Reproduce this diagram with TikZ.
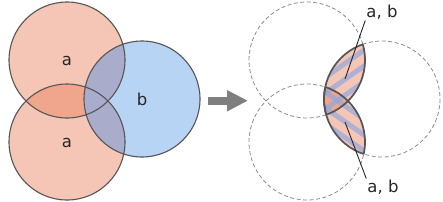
\documentclass[tikz,border=0pt]{standalone}
\usepackage{fontspec}
\setmainfont{DejaVu Sans}
\definecolor{salm}{HTML}{F5C6B6}
\definecolor{salmdark}{HTML}{F0A68C}
\definecolor{blu}{HTML}{B8D4F5}
\definecolor{purp}{HTML}{AAACCC}
\definecolor{outc}{HTML}{555555}
\definecolor{stripec}{HTML}{8FA6E0}
\definecolor{arrowc}{HTML}{7F7F7F}
\definecolor{dashcol}{HTML}{8C8C8C}
\begin{document}
\begin{tikzpicture}[x=1pt,y=-1pt,
  outl/.style={draw=outc,line width=1.1pt},
  dashc/.style={draw=dashcol,line width=0.8pt,dash pattern=on 4pt off 2.5pt},
  lensline/.style={draw=outc,line width=1.7pt},
  stripe/.style={draw=stripec,line width=5pt,opacity=0.68},
  lbl/.style={inner sep=1pt,text=black!85,font=\fontsize{16.5}{19}\selectfont},
  leader/.style={draw=black!85,line width=0.9pt}]
\useasboundingbox (0,0) rectangle (443,201);
\def\r{58}
% ---- left ----
\coordinate (TA) at (67,60);
\coordinate (BA) at (67,142);
\coordinate (CB) at (142,99);
\fill[salm] (TA) circle (\r);
\fill[salm] (BA) circle (\r);
\fill[blu] (CB) circle (\r);
\begin{scope}
  \clip (TA) circle (\r);
  \fill[salmdark] (BA) circle (\r);
\end{scope}
\begin{scope}
  \clip (CB) circle (\r);
  \fill[purp] (TA) circle (\r);
  \fill[purp] (BA) circle (\r);
\end{scope}
\draw[outl] (TA) circle (\r) (BA) circle (\r) (CB) circle (\r);
\node[lbl] (la1) at (67,61) {a};
\node[lbl] (la2) at (67,143) {a};
\node[lbl] (lb) at (142,99) {b};
% ---- arrow ----
\fill[arrowc] (208,96.5) rectangle (228,105);
\fill[arrowc] (227,90) -- (247.5,100.7) -- (227,111.5) -- cycle;
% ---- right ----
\coordinate (TR) at (307,60);
\coordinate (BR) at (307,142);
\coordinate (CR) at (382,99);
\draw[dashc] (TR) circle (\r) (BR) circle (\r) (CR) circle (\r);
\begin{scope}
  \clip (TR) circle (\r);
  \clip (CR) circle (\r);
  \fill[salm] (TR) circle (\r);
\end{scope}
\begin{scope}
  \clip (BR) circle (\r);
  \clip (CR) circle (\r);
  \fill[salm] (BR) circle (\r);
\end{scope}
\begin{scope}
  \clip (BR) circle (\r);
  \clip (CR) circle (\r);
  \fill[salmdark] (TR) circle (\r);
\end{scope}
\begin{scope}
  \clip (TR) circle (\r);
  \clip (CR) circle (\r);
  \begin{scope}[shift={(344,80)},rotate=35]
    \foreach \k in {-6,...,6} \draw[stripe] (-120,\k*13) -- (120,\k*13);
  \end{scope}
\end{scope}
\begin{scope}
  \clip (BR) circle (\r);
  \clip (CR) circle (\r);
  \begin{scope}[shift={(344,121)},rotate=-35]
    \foreach \k in {-6,...,6} \draw[stripe] (-120,\k*13) -- (120,\k*13);
  \end{scope}
\end{scope}
\begin{scope}
  \clip (TR) circle (\r);
  \draw[lensline] (CR) circle (\r);
\end{scope}
\begin{scope}
  \clip (BR) circle (\r);
  \draw[lensline] (CR) circle (\r);
\end{scope}
\begin{scope}
  \clip (CR) circle (\r);
  \draw[lensline] (TR) circle (\r) (BR) circle (\r);
\end{scope}
\node[lbl] (ab1) at (382,12) {a, b};
\node[lbl] (ab2) at (383,187) {a, b};
\coordinate (p1) at (345,79);
\coordinate (p2) at (345,122);
\draw[leader] (p1) -- (ab1.south west);
\draw[leader] (p2) -- (ab2.north west);
\end{tikzpicture}
\end{document}
